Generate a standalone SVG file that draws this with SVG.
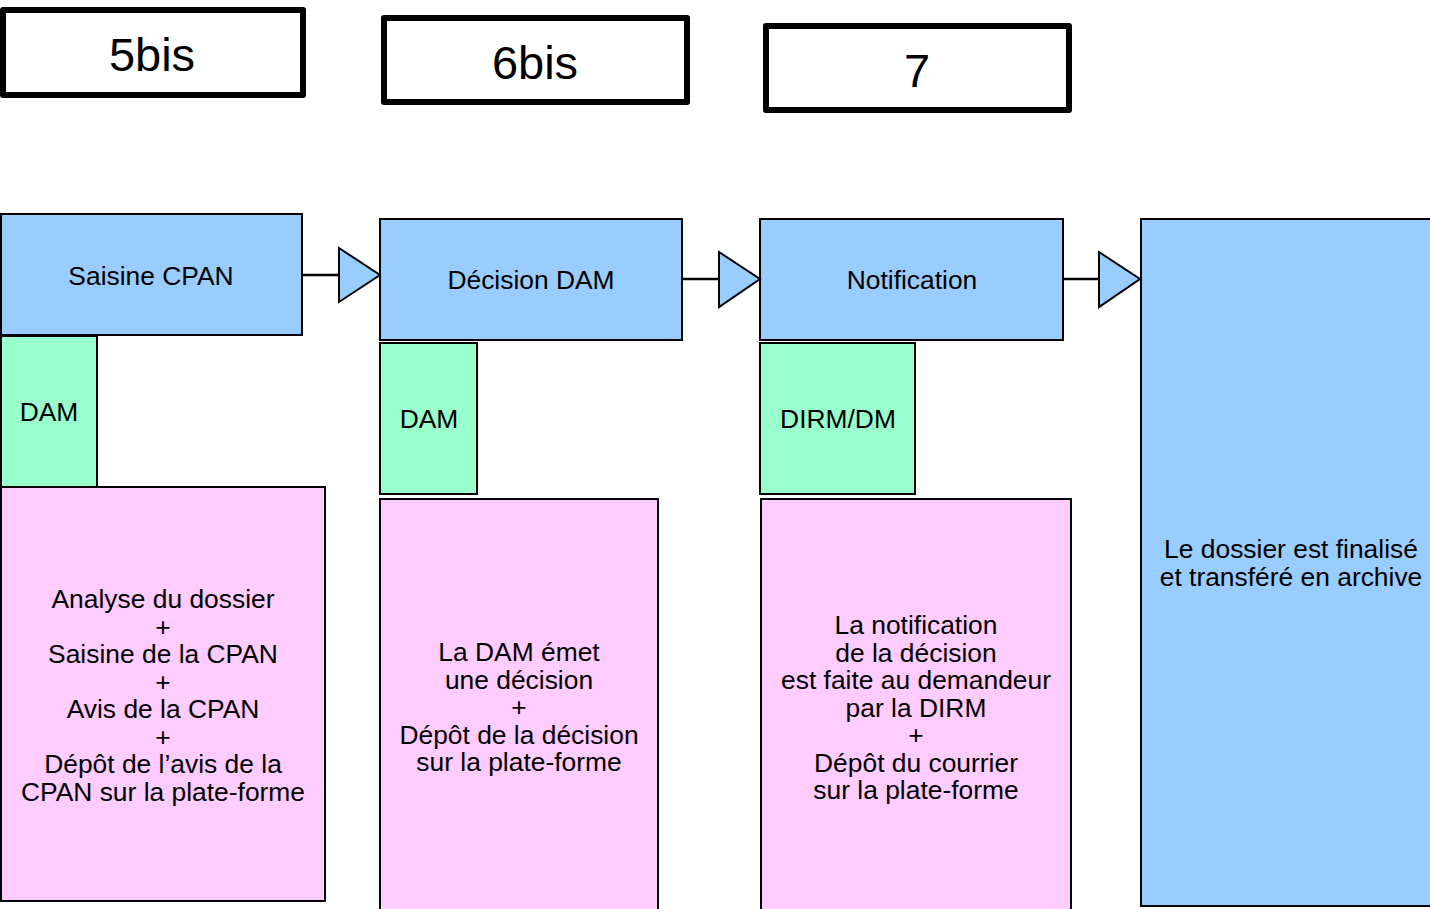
<svg xmlns="http://www.w3.org/2000/svg" width="1430" height="909" viewBox="0 0 1430 909">
<style>
text{font-family:"Liberation Sans",Arial,sans-serif;fill:#000;text-anchor:middle}
.step{fill:#fff;stroke:#000;stroke-width:6;stroke-linejoin:round}
.big{font-size:47px}
.blue{fill:#99ccff;stroke:#000;stroke-width:2}
.green{fill:#99ffcc;stroke:#000;stroke-width:2}
.pink{fill:#ffccff;stroke:#000;stroke-width:2}
.t{font-size:26.4px}
.conn line{stroke:#000;stroke-width:2.5}
.conn polygon{fill:#99ccff;stroke:#000;stroke-width:2;stroke-linejoin:miter}
</style>
<rect width="1430" height="909" fill="#fff"/>
<g id="step-5bis"><rect class="step" x="3" y="10" width="300" height="85"/><text class="big" x="152" y="71">5bis</text></g>
<g id="step-6bis"><rect class="step" x="384" y="18" width="303" height="84"/><text class="big" x="535" y="79">6bis</text></g>
<g id="step-7"><rect class="step" x="766" y="26" width="303" height="84"/><text class="big" x="917" y="87">7</text></g>

<g id="saisine"><rect class="blue" x="1" y="214" width="301" height="121"/><text class="t" x="151" y="285">Saisine CPAN</text></g>
<g id="decision"><rect class="blue" x="380" y="219" width="302" height="121"/><text class="t" x="531" y="289">Décision DAM</text></g>
<g id="notification"><rect class="blue" x="760" y="219" width="303" height="121"/><text class="t" x="912" y="289">Notification</text></g>
<g id="archive"><rect class="blue" x="1141" y="219" width="300" height="687"/><text class="t" x="1291" y="558">Le dossier est finalisé</text><text class="t" x="1291" y="585.5">et transféré en archive</text></g>

<g id="dam1"><rect class="green" x="1" y="336" width="96" height="151"/><text class="t" x="49" y="421">DAM</text></g>
<g id="dam2"><rect class="green" x="380" y="343" width="97" height="151"/><text class="t" x="429" y="428">DAM</text></g>
<g id="dirm"><rect class="green" x="760" y="343" width="155" height="151"/><text class="t" x="838" y="428">DIRM/DM</text></g>

<g id="desc1"><rect class="pink" x="1" y="487" width="324" height="414"/>
<text class="t" x="163" y="608">Analyse du dossier</text>
<text class="t" x="163" y="635.5">+</text>
<text class="t" x="163" y="663">Saisine de la CPAN</text>
<text class="t" x="163" y="690.5">+</text>
<text class="t" x="163" y="718">Avis de la CPAN</text>
<text class="t" x="163" y="745.5">+</text>
<text class="t" x="163" y="773">Dépôt de l’avis de la</text>
<text class="t" x="163" y="800.5">CPAN sur la plate-forme</text>
</g>
<g id="desc2"><rect class="pink" x="380" y="499" width="278" height="420"/>
<text class="t" x="519" y="661">La DAM émet</text>
<text class="t" x="519" y="688.5">une décision</text>
<text class="t" x="519" y="716">+</text>
<text class="t" x="519" y="743.5">Dépôt de la décision</text>
<text class="t" x="519" y="771">sur la plate-forme</text>
</g>
<g id="desc3"><rect class="pink" x="761" y="499" width="310" height="420"/>
<text class="t" x="916" y="634">La notification</text>
<text class="t" x="916" y="661.5">de la décision</text>
<text class="t" x="916" y="689">est faite au demandeur</text>
<text class="t" x="916" y="716.5">par la DIRM</text>
<text class="t" x="916" y="744">+</text>
<text class="t" x="916" y="771.5">Dépôt du courrier</text>
<text class="t" x="916" y="799">sur la plate-forme</text>
</g>

<g id="connectors" class="conn">
<line x1="302" y1="275" x2="339" y2="275"/><polygon points="339,248 380,275 339,302"/>
<line x1="682" y1="279" x2="719" y2="279"/><polygon points="719,252 760,279 719,307"/>
<line x1="1063" y1="279" x2="1099" y2="279"/><polygon points="1099,252 1140,279 1099,307"/>
</g>
</svg>
